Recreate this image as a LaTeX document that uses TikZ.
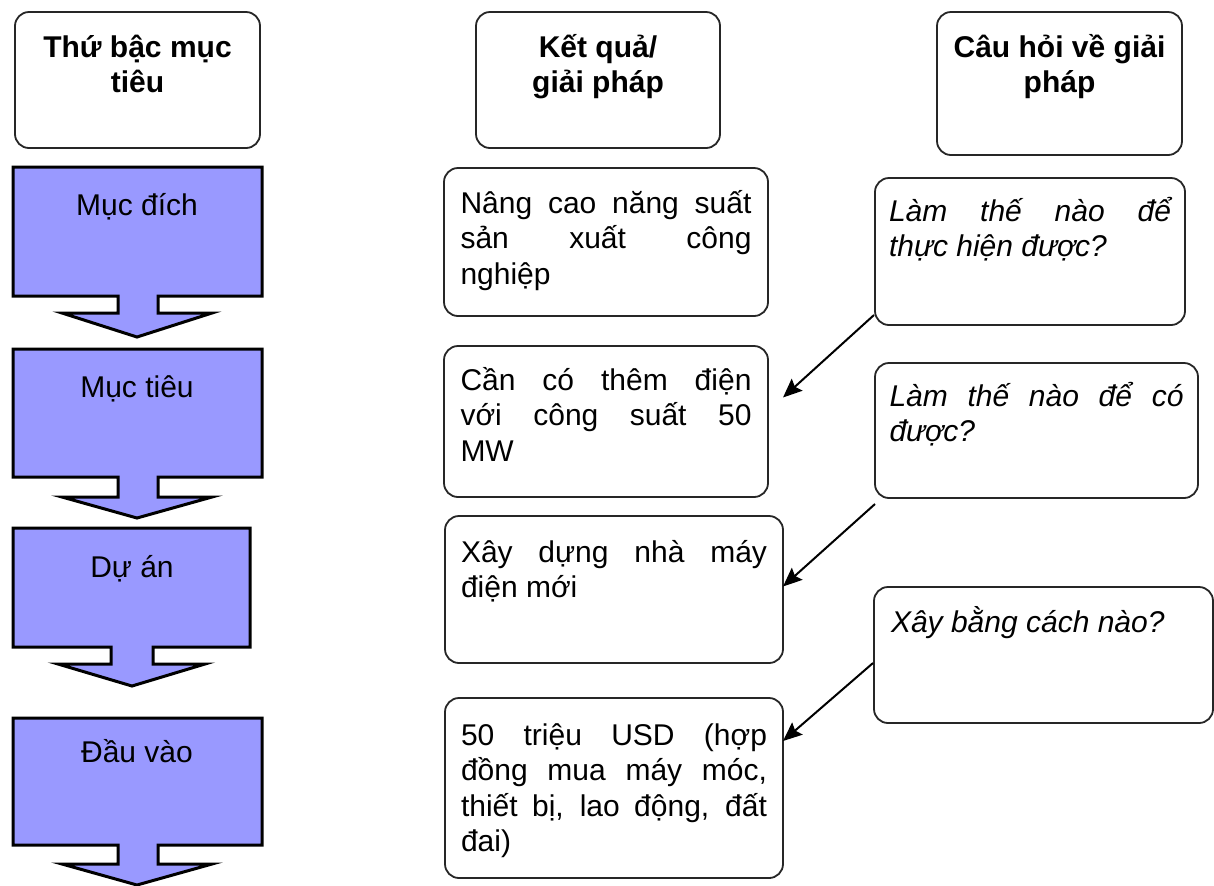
\documentclass[tikz,border=0pt]{standalone}
\usepackage{fontspec}
\setmainfont{Liberation Sans}
\usetikzlibrary{arrows.meta,calc}
\definecolor{goalblue}{HTML}{9999FF}
\newdimen\pxu \pxu=0.5pt
\newcommand{\celltext}[4]{\parbox[c][#2\pxu][t]{#1\pxu}{\rule{0pt}{#3\pxu}#4}}
\tikzset{>=Stealth,
  goal/.style={draw=black,fill=goalblue,line width=1.5pt,line join=miter},
  card/.style={draw=black!85,line width=0.9pt,rounded corners=7pt,inner sep=0pt,outer sep=0pt,anchor=north west,minimum width=#1*0.5pt},
  link/.style={-{Stealth[length=9.5pt,width=8pt,inset=1.5pt]},line width=1pt}}
\hyphenpenalty=10000
\tolerance=10000

\begin{document}
\begin{tikzpicture}[x=0.5pt,y=-0.5pt,font=\fontsize{15}{17.75}\selectfont]
  \useasboundingbox (0,0) rectangle (1214,885);
  % headers
  \node[card=245] (hgoal) at (15,12) {\celltext{225}{136}{45}{\centering\bfseries Thứ bậc mục\\ tiêu}};
  \node[card=244] (hresult) at (476,12) {\celltext{225}{136}{45}{\centering\bfseries Kết quả/\\ giải pháp}};
  \node[card=245] (hquest) at (937,12) {\celltext{235}{143}{45}{\centering\bfseries Câu hỏi về giải\\ pháp}};
  % block arrows on the left
  \draw[goal] (13,167) -- (262,167) -- (262,296) -- (158,296) -- (158,313) -- (212,313) -- (137,337) -- (62,313) -- (118,313) -- (118,296) -- (13,296) -- cycle;
  \draw[goal] (13,349) -- (262,349) -- (262,477) -- (158,477) -- (158,497) -- (212,497) -- (137,518) -- (62,497) -- (118,497) -- (118,477) -- (13,477) -- cycle;
  \draw[goal] (13,528) -- (250,528) -- (250,647) -- (153,647) -- (153,664) -- (205,664) -- (132,686) -- (58,664) -- (111,664) -- (111,647) -- (13,647) -- cycle;
  \draw[goal] (13,718) -- (262,718) -- (262,845) -- (158,845) -- (158,864) -- (212,864) -- (137,885) -- (62,864) -- (118,864) -- (118,845) -- (13,845) -- cycle;
  \node[anchor=base] (mucdich) at (137,215) {Mục đích};
  \node[anchor=base] (muctieu) at (137,397) {Mục tiêu};
  \node[anchor=base] (duan) at (132,577) {Dự án};
  \node[anchor=base] (dauvao) at (137,762) {Đầu vào};
  % results
  \node[card=324] (b1) at (444,168) {\celltext{291}{148}{45}{Nâng cao năng suất\linebreak sản xuất công\linebreak nghiệp}};
  \node[card=324] (b2) at (444,346) {\celltext{291}{151}{44}{Cần có thêm điện\linebreak với công suất 50\linebreak MW}};
  \node[card=338] (b3) at (445,516) {\celltext{306}{147}{46}{Xây dựng nhà máy\linebreak điện mới}};
  \node[card=338] (b4) at (445,698) {\celltext{306}{180}{47}{50 triệu USD (hợp\linebreak đồng mua máy móc,\linebreak thiết bị, lao động, đất\linebreak đai)}};
  % questions
  \node[card=310] (q1) at (875,178) {\celltext{282}{147}{43}{\itshape Làm thế nào để\linebreak thực hiện được?}};
  \node[card=323] (q2) at (875,363) {\celltext{294}{135}{43}{\itshape Làm thế nào để có\linebreak được?}};
  \node[card=339] (q3) at (874,587) {\celltext{305}{136}{45}{\itshape Xây bằng cách nào?}};
  \draw[link] ($(q1.south west)+(-1,-10)$) -- ($(b2.east)+(15,-24)$);
  \draw[link] ($(q2.south west)+(0,6)$) -- ($(b3.east)+(0,-3)$);
  \draw[link] ($(q3.west)+(-1,8)$) -- ($(b4.east)+(0,-47)$);
\end{tikzpicture}
\end{document}
